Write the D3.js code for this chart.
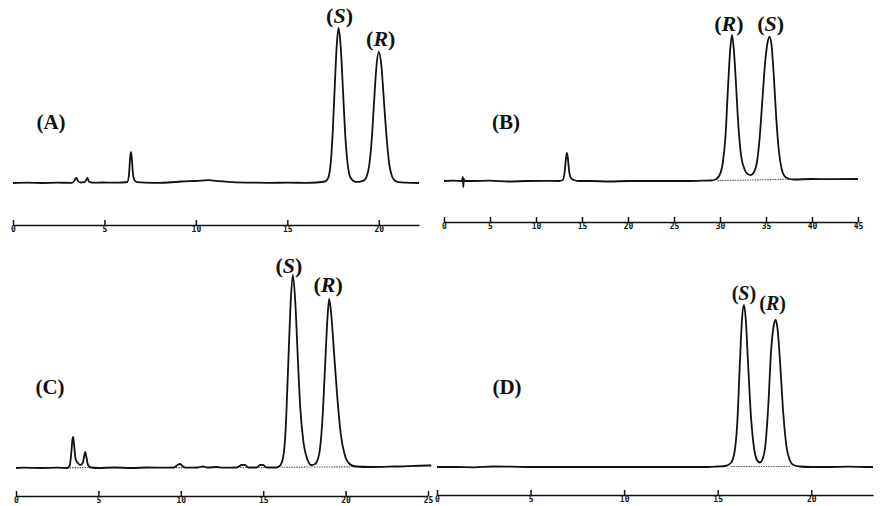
<!DOCTYPE html>
<html>
<head>
<meta charset="utf-8">
<script src="https://cdn.jsdelivr.net/npm/d3@7"></script>
<style>
  body { margin: 0; background: #fff; }
</style>
</head>
<body>
<svg id="chart" width="894" height="506"></svg>
<script>
// ---- data: [retention time (min), detector signal above baseline] ----
const traceA = [[0,0],[0.8,0.3],[1.6,0],[2.4,0.3],[3.2,0.2],[3.33,1.5],[3.42,4.5],[3.47,5],[3.55,2],[3.7,0.5],[3.9,0.8],[4.0,3],[4.07,5],[4.15,1.5],[4.35,0.3],[4.9,0.5],[5.5,0.3],[6.0,0.5],[6.25,1],[6.34,8],[6.4,24],[6.45,31],[6.5,24],[6.56,9],[6.65,2.5],[6.8,0.8],[7.2,0.3],[8,0.2],[8.5,0.5],[9.2,1.5],[10,2],[10.7,2.8],[11.3,1.8],[12,0.8],[13.2,0.3],[14,0.2],[15,0.3],[16,0.2],[16.6,0.5],[17.06,1.5],[17.17,3],[17.27,7],[17.38,21],[17.48,50],[17.59,95],[17.7,137],[17.8,155],[17.92,136],[18.04,94],[18.16,50],[18.28,22],[18.4,8],[18.55,3],[18.75,1.2],[18.95,1.2],[19.1,2],[19.22,3],[19.35,7],[19.48,18],[19.61,42],[19.74,80],[19.87,116],[20.0,131],[20.15,116],[20.29,80],[20.44,43],[20.58,18],[20.72,7],[20.87,2.5],[21.1,0.8],[21.5,0.3],[22.2,0]];

const traceB = [[0,0],[1,0.3],[1.95,0],[2.05,4],[2.1,-6],[2.15,2],[2.25,0],[3,0],[5,0.3],[7,-0.5],[9,0],[11,0.2],[12.5,0],[12.9,1],[13.1,8],[13.25,22],[13.35,28],[13.45,24],[13.6,10],[13.8,3],[14.1,1],[14.6,0],[16,0],[18,-0.5],[20,0],[23,0],[26,0],[28,0.3],[29,0.5],[29.5,1.5],[29.9,5],[30.3,18],[30.6,45],[30.85,90],[31.1,130],[31.3,146],[31.5,132],[31.75,95],[32.0,55],[32.3,25],[32.7,11],[33.0,7],[33.35,6],[33.7,9],[34.0,18],[34.3,42],[34.6,80],[34.9,118],[35.2,140],[35.4,144],[35.6,136],[35.85,105],[36.1,65],[36.4,30],[36.7,12],[37.0,5],[37.4,2.5],[38,1.5],[40,2],[42,1.8],[45,2]];

const traceC = [[0,0],[0.5,0.3],[1.5,0],[2.5,0.3],[3.1,0],[3.25,2],[3.35,14],[3.42,28],[3.47,31],[3.53,22],[3.62,9],[3.75,5],[3.9,3],[4.05,5],[4.15,13],[4.2,16],[4.27,11],[4.37,3],[4.55,0.5],[5,0],[6,0.5],[7,0],[8,0.5],[9,0.3],[9.6,0.5],[9.8,3],[9.95,4],[10.1,2],[10.3,0.3],[11,0.5],[11.35,1.5],[11.6,0.5],[12.2,1],[12.5,0.3],[13.4,0.5],[13.7,3],[13.9,3],[14.1,0.5],[14.6,0.5],[14.8,3],[15.0,3],[15.2,0.5],[15.8,0.5],[16.0,2],[16.2,10],[16.35,35],[16.5,95],[16.65,160],[16.8,193],[16.95,165],[17.1,110],[17.25,60],[17.45,25],[17.7,8],[17.9,3],[18.1,3.5],[18.3,8],[18.45,20],[18.6,50],[18.75,100],[18.9,150],[19.0,169],[19.12,155],[19.3,115],[19.5,70],[19.7,35],[19.95,13],[20.25,4],[20.6,1.5],[21.5,1],[23,1.5],[25,2.5],[25.2,2.5]];

const traceD = [[0,0],[1,0],[2,-0.3],[3,0.5],[4,0.3],[5,0],[7,0],[9,0],[11,0],[13,0],[14.5,0],[15.0,0.5],[15.4,1],[15.7,4],[15.9,15],[16.05,45],[16.2,110],[16.3,148],[16.4,162],[16.5,148],[16.62,105],[16.78,50],[16.95,18],[17.1,7],[17.25,4.5],[17.4,8],[17.55,22],[17.7,60],[17.85,115],[18.0,142],[18.1,147],[18.2,138],[18.35,100],[18.5,55],[18.68,20],[18.85,7],[19.05,2],[19.4,0.5],[20,0],[21,0],[22,0.3],[23,0],[23.3,0]];

// dotted integration baselines
const dottedA = [];
const dottedB = [[[29.7,0.3],[37.6,1.8]]];
const dottedC = [[[3.1,0.3],[4.6,0.5]],[[9.7,0.4],[10.2,0.4]],[[13.6,0.5],[14.1,0.5]],[[14.7,0.5],[15.2,0.5]],[[16.1,0.8],[20.6,1.2]]];
const dottedD = [[[15.7,0.5],[18.9,0.5]]];

// tick labels (min)
const ticksA = [0, 5, 10, 15, 20];
const ticksB = [0, 5, 10, 15, 20, 25, 30, 35, 40, 45];
const ticksC = [0, 5, 10, 15, 20, 25];
const ticksD = [0, 5, 10, 15, 20];

// enantiomer peaks
const peaksA = [{ name: "S", t: 17.8 }, { name: "R", t: 20.0 }];
const peaksB = [{ name: "R", t: 31.3 }, { name: "S", t: 35.4 }];
const peaksC = [{ name: "S", t: 16.8 }, { name: "R", t: 19.0 }];
const peaksD = [{ name: "S", t: 16.4 }, { name: "R", t: 18.1 }];

// ---- layout ----
const panels = [
  { letter: "A", trace: traceA, dotted: dottedA, ticks: ticksA, peaks: peaksA, tMax: 22.2,
    x0: 13, x1: 419, base: 183, axisY: 225, letterXY: [51, 129], labelY: [23, 46], labelDx: [1, 2], labelSize: 22 },
  { letter: "B", trace: traceB, dotted: dottedB, ticks: ticksB, peaks: peaksB, tMax: 45,
    x0: 444, x1: 858, base: 181, axisY: 222, letterXY: [506, 129], labelY: [31, 31], labelDx: [-3, 1], labelSize: 22 },
  { letter: "C", trace: traceC, dotted: dottedC, ticks: ticksC, peaks: peaksC, tMax: 25,
    x0: 16, x1: 428, base: 468, axisY: 496, letterXY: [50, 394], labelY: [273, 292], labelDx: [-4, -1], labelSize: 22 },
  { letter: "D", trace: traceD, dotted: dottedD, ticks: ticksD, peaks: peaksD, tMax: 23.3,
    x0: 437, x1: 873, base: 467, axisY: 495, letterXY: [507, 394], labelY: [300, 310], labelDx: [0, -3], labelSize: 20 }
];

const svg = d3.select("#chart");
svg.append("rect").attr("width", 894).attr("height", 506).attr("fill", "#fff");

panels.forEach(function (p) {
  const x = d3.scaleLinear().domain([0, p.tMax]).range([p.x0, p.x1]);
  const y = d3.scaleLinear().domain([0, 200]).range([p.base, p.base - 200]);
  const g = svg.append("g").attr("class", "panel-" + p.letter);

  //dotted baselines
  g.selectAll(".dotted")
    .data(p.dotted)
    .enter()
    .append("line")
    .attr("x1", (d) => x(d[0][0]))
    .attr("y1", (d) => y(d[0][1]))
    .attr("x2", (d) => x(d[1][0]))
    .attr("y2", (d) => y(d[1][1]))
    .attr("stroke", "#555")
    .attr("stroke-width", 1.1)
    .attr("stroke-dasharray", "1.5,1");

  //the chromatogram trace
  const line = d3
    .line()
    .x((d) => x(d[0]))
    .y((d) => y(d[1]))
    .curve(d3.curveMonotoneX);

  g.append("path")
    .datum(p.trace)
    .attr("d", line)
    .attr("fill", "none")
    .attr("stroke", "#111")
    .attr("stroke-width", 1.8)
    .attr("stroke-linejoin", "round");

  //time axis, ticks pointing up
  const axis = d3
    .axisBottom(x)
    .tickValues(p.ticks)
    .tickFormat(d3.format("d"))
    .tickSizeInner(-5)
    .tickSizeOuter(0)
    .tickPadding(1);

  const ax = g.append("g").attr("transform", "translate(0," + p.axisY + ")").call(axis);
  ax.select(".domain").attr("stroke", "#111").attr("stroke-width", 1.7);
  ax.selectAll(".tick line").attr("stroke", "#111").attr("stroke-width", 1.5);
  ax.selectAll(".tick text")
    .attr("fill", "#111")
    .attr("font-family", "DejaVu Sans Mono")
    .attr("font-weight", "bold")
    .attr("font-size", 8);

  //panel letter
  g.append("text")
    .attr("x", p.letterXY[0])
    .attr("y", p.letterXY[1])
    .attr("text-anchor", "middle")
    .attr("font-family", "Liberation Serif")
    .attr("font-weight", "bold")
    .attr("font-size", 21)
    .attr("fill", "#111")
    .text("(" + p.letter + ")");

  //peak labels (S)/(R)
  const lab = g
    .selectAll(".peakLabel")
    .data(p.peaks)
    .enter()
    .append("text")
    .attr("x", (d, i) => x(d.t) + p.labelDx[i])
    .attr("y", (d, i) => p.labelY[i])
    .attr("text-anchor", "middle")
    .attr("font-family", "Liberation Serif")
    .attr("font-weight", "bold")
    .attr("font-size", p.labelSize)
    .attr("fill", "#111");
  lab.append("tspan").text("(");
  lab.append("tspan").attr("font-style", "italic").text((d) => d.name);
  lab.append("tspan").text(")");
});
</script>
</body>
</html>
